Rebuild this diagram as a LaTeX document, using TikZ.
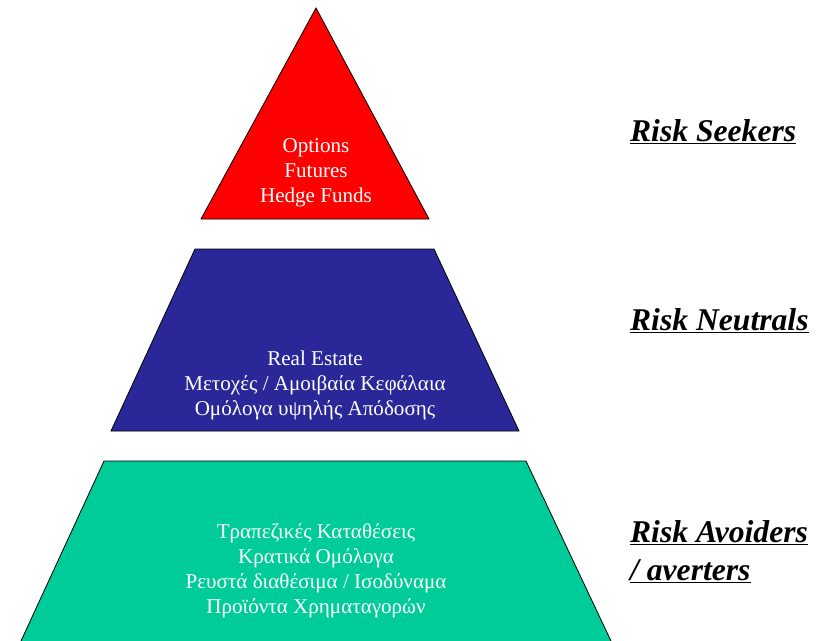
\documentclass[tikz,border=0pt]{standalone}
\usepackage{fontspec}
\setmainfont{Liberation Serif}
\usepackage{tikz}
\definecolor{seekred}{RGB}{255,0,0}
\definecolor{neutralblue}{RGB}{42,40,152}
\definecolor{avoidgreen}{RGB}{0,204,153}

\tikzset{
  level/.style={draw=black, line width=0.7pt},
  assets/.style={text=white, align=center, font=\fontsize{18}{21.3}\selectfont},
  profile/.style={anchor=base west, align=left, font=\fontsize{27}{32.3}\selectfont\bfseries\itshape}
}

\begin{document}
\begin{tikzpicture}[x=0.03cm, y=-0.03cm]
    \useasboundingbox (0,0) rectangle (817,640);
    % Pyramid levels
    \fill[seekred] (316,8) -- (429,219) -- (201,219) -- cycle;
    \draw[level] (316,8) -- (429,219) -- (201,219) -- cycle;
    \fill[neutralblue] (195,249) -- (434,249) -- (519,431) -- (111,431) -- cycle;
    \draw[level] (195,249) -- (434,249) -- (519,431) -- (111,431) -- cycle;
    \fill[avoidgreen] (104,461) -- (526,461) -- (611,641) -- (21,641) -- cycle;
    \draw[level] (21,641) -- (104,461) -- (526,461) -- (611,641);

    % Contents
    \node[assets] (seekers) at (316,173) {Options\\Futures\\Hedge Funds};
    \node[assets] (neutrals) at (315,385) {Real Estate\\Μετοχές / Αμοιβαία Κεφάλαια\\Ομόλογα υψηλής Απόδοσης};
    \node[assets] (avoiders) at (316,571) {Τραπεζικές Καταθέσεις\\Κρατικά Ομόλογα\\Ρευστά διαθέσιμα / Ισοδύναμα\\Προϊόντα Χρηματαγορών};

    % Investor profiles
    \node[profile] (seekerlabel) at (626,141) {\underline{Risk Seekers}};
    \node[profile] (neutrallabel) at (626,330) {\underline{Risk Neutrals}};
    \node[profile] (avoiderlabel) at (626,580) {\underline{Risk Avoiders}\\\underline{/ averters}};
\end{tikzpicture}
\end{document}
